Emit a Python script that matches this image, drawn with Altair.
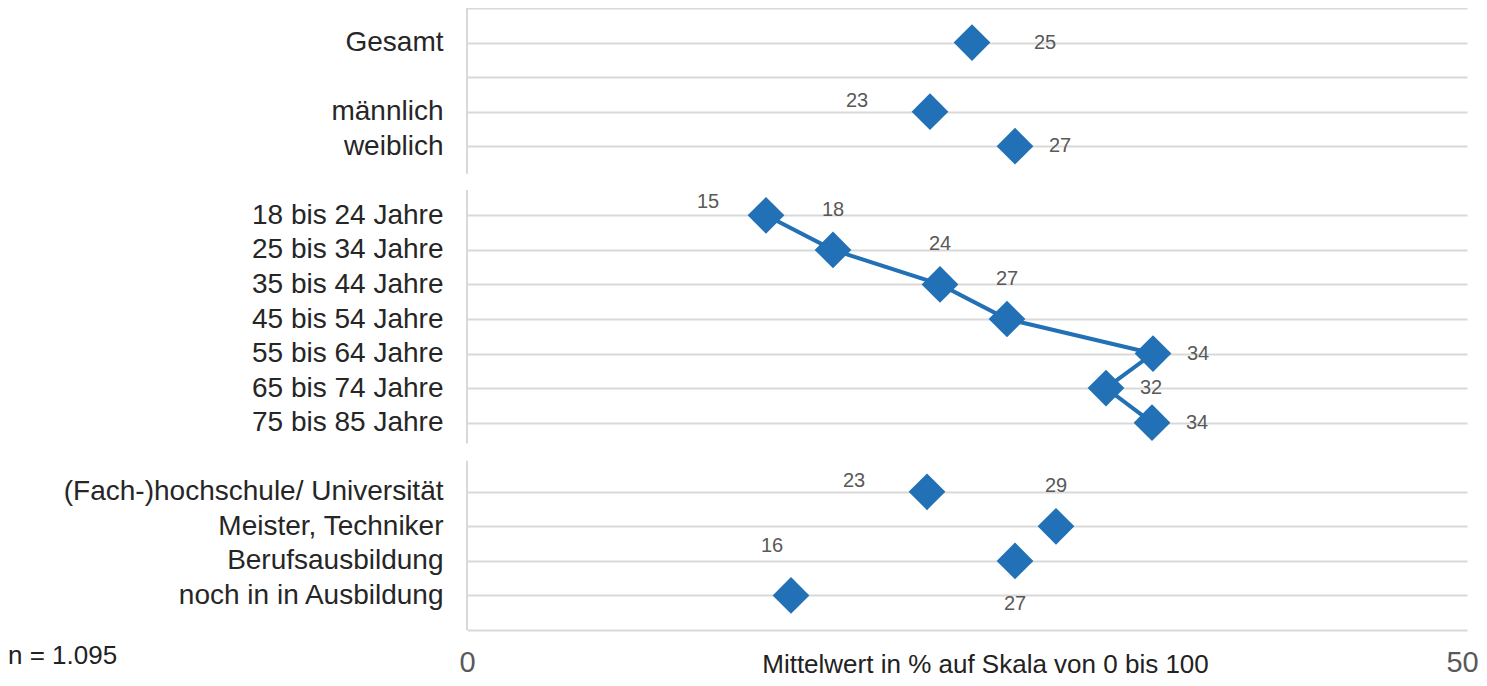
import json
import altair as alt
import pandas as pd

# ---------------- data ----------------
categories = [
    "Gesamt",
    "männlich", "weiblich",
    "18 bis 24 Jahre", "25 bis 34 Jahre", "35 bis 44 Jahre", "45 bis 54 Jahre",
    "55 bis 64 Jahre", "65 bis 74 Jahre", "75 bis 85 Jahre",
    "(Fach-)hochschule/ Universität", "Meister, Techniker",
    "Berufsausbildung", "noch in in Ausbildung",
]
row_index = [1, 3, 4, 6, 7, 8, 9, 10, 11, 12, 14, 15, 16, 17]
means = [25.25, 23.15, 27.4, 14.95, 18.3, 23.65, 27.0, 34.3, 31.95, 34.25,
         23.0, 29.45, 27.4, 16.2]
groups = ["total", "sex", "sex", "age", "age", "age", "age", "age", "age", "age",
          "edu", "edu", "edu", "edu"]
label_place = ["right_far", "left_up", "right", "left_up_near", "above", "above",
               "above", "right", "right", "right", "left_up", "above", "below",
               "above_left"]
n_rows = 18
grid_rows = [0, 1, 2, 3, 4, 6, 7, 8, 9, 10, 11, 12, 14, 15, 16, 17, 18]
axis_seg_start = [0, 5.27, 13.1]
axis_seg_end = [4.8, 12.6, 18]
x_ticks = [0, 50]
x_title = "Mittelwert in % auf Skala von 0 bis 100"
note = "n = 1.095"

# ---------------- styles ----------------
BLUE = "#2270b5"
GRID = "#d9d9d9"
FONT = "Liberation Sans"
place_offsets = {
    "right": (45, 0),
    "right_far": (73, 0),
    "left_up": (-73, -11),
    "left_up_near": (-58, -13),
    "above": (0, -40),
    "below": (0, 43),
    "above_left": (-19, -49),
}

df = pd.DataFrame({"label": categories, "row": row_index, "value": means,
                   "group": groups, "place": label_place})
seg = pd.DataFrame({"value": [0] * len(axis_seg_start), "row": axis_seg_start,
                    "row2": axis_seg_end})

row_names = [""] * (n_rows + 1)
for name, r in zip(categories, row_index):
    row_names[r] = name
label_expr = json.dumps(row_names, ensure_ascii=False) + "[datum.value]"

xscale = alt.Scale(domain=[0, 50], nice=False, zero=False)
yscale = alt.Scale(domain=[0, n_rows], nice=False, zero=False, reverse=True)

x_axis = alt.Axis(
    values=x_ticks, title=x_title, grid=False, domain=False, ticks=False, tickSize=0,
    labelFontSize=29, labelColor="#595959", labelPadding=41, labelBaseline="alphabetic",
    labelFlush=False, labelOverlap=False, labelFont=FONT,
    labelOffset={"expr": "datum.value == 50 ? -5 : 0"},
    titleFont=FONT, titleFontSize=26, titleFontWeight="normal", titleColor="#222222",
    titleX=518, titleY=42, titleAlign="center", titleBaseline="alphabetic",
)
y_axis = alt.Axis(
    values=grid_rows, labelExpr=label_expr, title=None, grid=True, gridColor=GRID,
    gridWidth=2, domain=False, ticks=False, tickSize=0, labelPadding=24,
    labelFontSize=28, labelColor="#262626", labelFont=FONT, labelLimit=600,
    labelOverlap=False, labelFlush=False, labelBaseline="middle", labelAlign="right",
)

X = alt.X("value:Q", scale=xscale, axis=x_axis)
Y = alt.Y("row:Q", scale=yscale, axis=y_axis)

base = alt.Chart(df)

segments = alt.Chart(seg).mark_rule(color=GRID, strokeWidth=2).encode(
    x=X, y=Y, y2="row2:Q")

line = base.transform_filter(alt.datum.group == "age").mark_line(
    color=BLUE, strokeWidth=4).encode(x=X, y=Y, order="row:Q")

points = base.mark_point(shape="diamond", filled=True, size=1350, color=BLUE,
                         opacity=1).encode(x=X, y=Y)

text_layers = []
for place, (dx, dy) in place_offsets.items():
    text_layers.append(
        base.transform_filter(alt.datum.place == place).mark_text(
            dx=dx, dy=dy, fontSize=20, color="#595959", font=FONT,
            align="center", baseline="middle").encode(
            x=X, y=Y, text=alt.Text("value:Q", format=".0f"))
    )

note_layer = alt.Chart(pd.DataFrame({"t": [note]})).mark_text(
    align="left", baseline="alphabetic", fontSize=26, color="#222222", font=FONT).encode(
    x=alt.value(-459), y=alt.value(656), text="t:N")

chart = alt.layer(segments, line, points, *text_layers, note_layer).properties(
    width=1000, height=622,
    padding={"left": 459, "top": 0, "right": 12, "bottom": 48},
    autosize=alt.AutoSizeParams(type="none"),
).configure(background="white", font=FONT).configure_view(stroke=None)

chart.save("out.html", embed_options={"renderer": "svg", "actions": False})
